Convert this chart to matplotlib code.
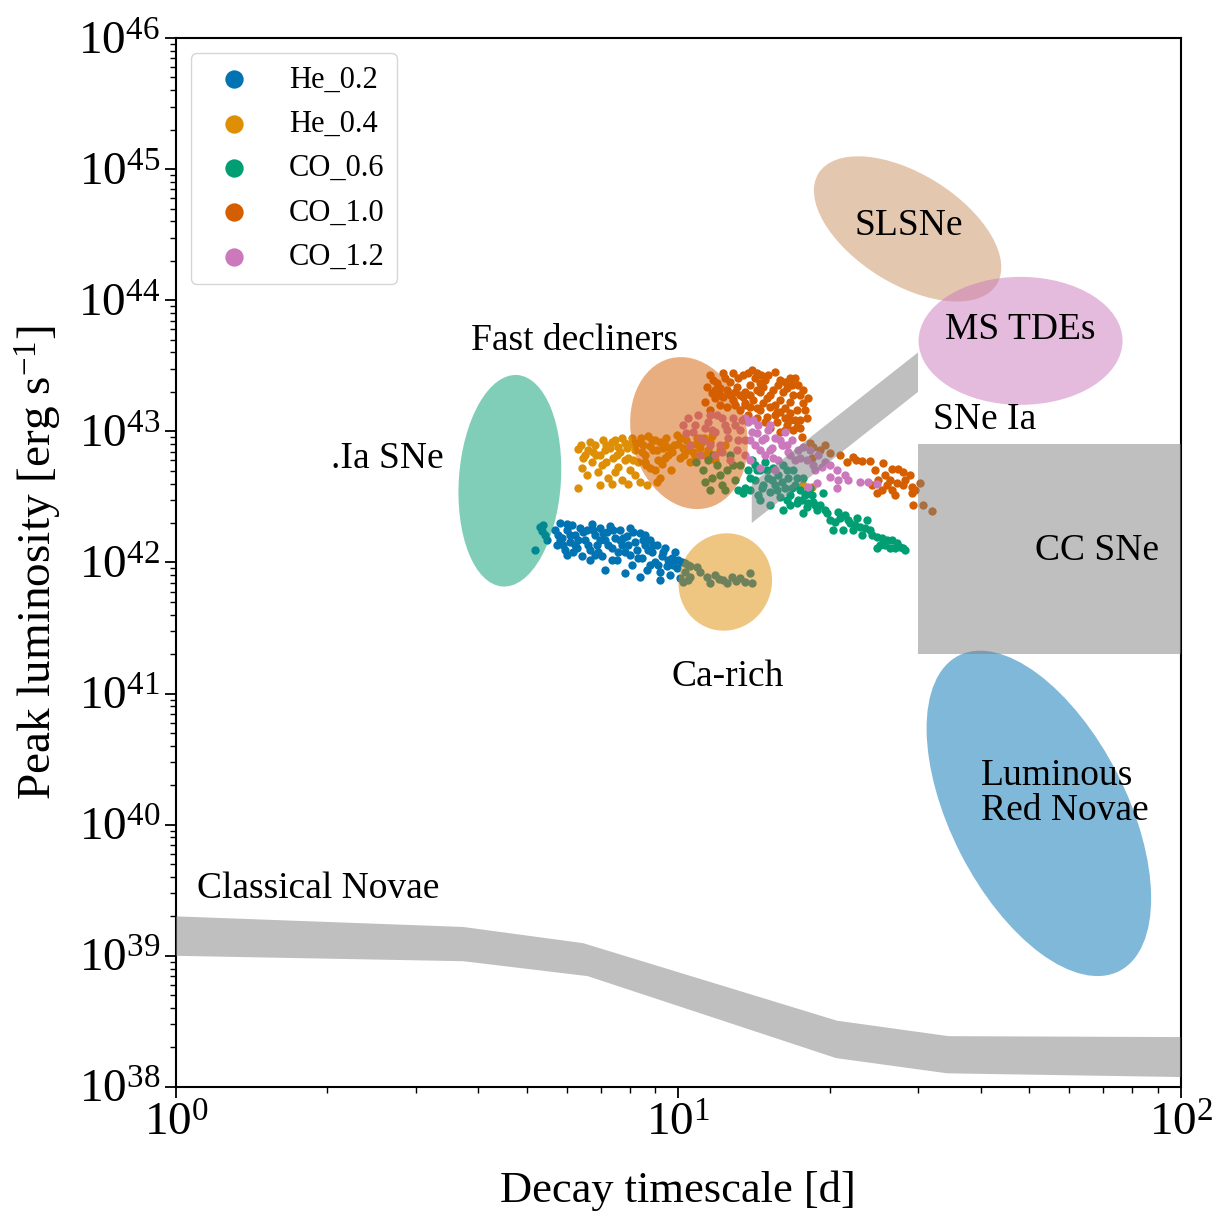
import matplotlib
matplotlib.use('Agg')
import matplotlib.pyplot as plt
import matplotlib.transforms as mtransforms
from matplotlib.patches import Ellipse

plt.rcParams['font.family'] = ['Liberation Serif', 'DejaVu Serif']
plt.rcParams['mathtext.fontset'] = 'custom'
plt.rcParams['mathtext.rm'] = 'Liberation Serif'
plt.rcParams['mathtext.it'] = 'Liberation Serif:italic'

# --- model light curves: decay time [d], peak luminosity [1e42 erg/s] ---
he02_t = [5.18, 5.30, 5.35, 5.42, 5.47, 5.37, 5.68, 5.73, 5.81, 5.86, 5.94, 5.99, 6.08, 6.13,
          6.22, 6.28, 6.37, 6.43, 6.52, 6.58, 6.67, 6.73, 6.82, 6.88, 6.98, 7.04, 7.14, 7.21,
          7.31, 7.38, 7.48, 7.55, 7.65, 7.72, 7.83, 7.90, 8.01, 8.08, 8.19, 8.27, 8.38, 8.46,
          8.58, 8.66, 8.78, 8.86, 8.98, 9.06, 9.19, 9.27, 9.40, 9.49, 9.62, 9.71, 9.84, 9.93,
          10.07, 10.16, 10.30, 10.44, 10.54, 5.99, 6.67, 7.14, 7.83, 8.38, 9.19, 10.44, 10.89,
          10.54, 10.21, 11.04, 11.39, 11.55, 11.82, 12.03, 12.26, 12.48, 12.77, 13.01, 13.26,
          13.56, 13.88, 14.01,
          5.76, 5.89, 6.01, 6.16, 6.31, 6.46, 6.61, 6.76, 6.92, 7.08, 7.24, 7.41, 7.58, 7.76,
          7.94, 8.12, 8.31, 8.50, 8.70, 8.90, 9.10, 9.32, 9.53, 9.75, 9.97, 10.30, 7.38, 6.82,
          6.22, 5.81, 8.01, 8.78, 6.08, 6.98, 7.65, 8.58]
he02_L = [1.24, 1.86, 1.74, 1.62, 1.48, 1.93, 1.77, 1.36, 2.01, 1.54, 1.24, 1.77, 1.43, 1.93,
          1.62, 1.28, 1.83, 1.12, 1.48, 1.77, 1.24, 1.97, 1.62, 1.36, 1.83, 1.12, 1.48, 1.71,
          1.90, 1.28, 1.54, 1.04, 1.77, 1.36, 1.20, 1.59, 1.83, 0.955, 1.43, 1.24, 1.67, 1.08,
          1.36, 0.875, 1.48, 1.20, 1.00, 1.36, 0.845, 1.12, 1.28, 0.94, 0.80, 1.08, 1.20, 0.90,
          0.76, 1.00, 0.845, 0.734, 0.94, 1.14, 1.04, 0.875, 0.83, 0.775, 0.734, 0.955, 0.92,
          0.775, 0.71, 0.845, 0.775, 0.697, 0.80, 0.75, 0.734, 0.697, 0.775, 0.72, 0.76,
          0.71, 0.83, 0.697,
          1.62, 1.36, 1.97, 1.20, 1.48, 1.71, 1.36, 1.77, 1.20, 1.69, 1.36, 1.77, 1.20, 1.54,
          1.36, 1.71, 1.08, 1.48, 1.24, 1.36, 0.955, 1.20, 1.04, 0.955, 1.04, 0.99, 1.04, 1.14,
          1.36, 1.48, 1.14, 0.955, 1.62, 1.48, 1.48, 1.62]

he04_t = [6.31, 6.43, 6.31, 6.52, 6.61, 6.73, 6.82, 6.92, 6.98, 7.08, 7.18, 7.24, 7.31, 7.41,
          7.48, 7.58, 7.65, 7.72, 7.83, 7.94, 8.01, 8.08, 8.19, 8.31, 8.38, 8.50, 8.58, 8.70,
          8.78, 8.90, 8.98, 9.10, 9.19, 9.32, 9.44, 9.53, 9.66, 9.79, 9.93, 10.07, 10.21, 10.35,
          10.54, 10.69, 10.89, 11.04, 11.29, 11.55, 11.82, 12.09, 17.69, 18.44, 8.66, 9.06, 7.38,
          6.46, 6.67, 6.85, 7.04, 7.14, 7.38, 7.55, 7.72, 7.90, 8.12, 8.27, 8.46, 8.62, 8.86,
          9.06, 9.27, 9.40, 9.71, 9.97, 10.25, 10.54, 10.79, 11.14, 11.45, 11.66, 12.37, 6.58,
          7.48, 8.19, 8.98, 6.98, 7.94,
          6.40, 6.76, 7.18, 7.58, 8.01, 8.42, 8.78, 9.19, 9.62, 10.07, 10.44, 10.84, 11.24,
          7.83, 8.58, 9.40]
he04_L = [7.33, 5.26, 3.70, 6.60, 7.20, 5.83, 7.86, 4.90, 6.60, 8.58, 5.83, 4.40, 7.46, 6.26,
          8.58, 5.35, 6.96, 4.25, 8.15, 6.26, 5.07, 8.90, 7.20, 5.83, 4.10, 7.86, 6.60, 9.20,
          5.26, 7.20, 8.58, 6.04, 4.40, 7.46, 8.90, 6.60, 5.07, 7.86, 9.37, 6.26, 7.46, 8.58,
          5.83, 6.96, 8.90, 7.46, 6.60, 8.30, 6.04, 7.20, 3.89, 3.76, 3.89, 4.10, 3.96,
          6.26, 8.30, 6.60, 5.53, 7.20, 8.30, 6.60, 8.90, 7.46, 6.04, 8.15, 6.96, 5.53, 8.58,
          7.20, 5.63, 7.86, 6.96, 8.00, 6.60, 7.86, 6.50, 8.30, 7.20, 9.20, 7.86, 4.64,
          4.90, 4.64, 5.07, 3.89, 3.96,
          7.86, 6.96, 7.86, 7.60, 8.00, 8.90, 7.72, 8.30, 7.46, 8.90, 7.20, 8.00, 8.90,
          6.04, 5.83, 6.26]

co06_t = [11.19, 11.45, 11.66, 11.93, 12.20, 12.48, 12.66, 12.95, 13.26, 13.56, 10.84, 11.55,
          13.75, 13.88, 14.01, 14.20, 14.40, 14.53, 14.73, 14.87, 15.07, 15.21, 15.42, 15.56,
          15.78, 15.92, 16.14, 16.29, 16.52, 16.67, 16.90, 17.06, 17.29, 17.45, 17.69, 17.85,
          18.10, 18.27, 14.20, 13.44, 16.44, 17.21, 18.02, 18.86, 19.75, 20.02, 20.96, 21.94,
          22.97, 24.05, 24.83, 26.00, 27.21, 27.97, 26.36, 24.83, 20.30, 21.25, 23.71, 22.25,
          23.18, 16.14, 17.69, 18.52, 19.39, 18.02, 19.12, 21.45, 25.18, 26.96,
          11.71, 12.09, 12.83, 13.13, 12.37, 11.29, 13.88, 14.33, 14.67, 15.00, 15.35, 15.71,
          16.07, 16.44, 16.82, 17.21, 17.61, 18.44, 18.69, 19.57, 20.48, 20.77, 21.74, 22.45,
          22.66, 23.50, 24.28, 25.41, 25.76, 26.60, 27.59, 28.23, 15.21, 14.53, 16.67]
co06_L = [5.07, 6.04, 4.40, 5.53, 3.89, 5.07, 6.60, 4.25, 5.53, 3.70, 5.83, 3.57,
          5.07, 3.57, 6.04, 4.25, 3.27, 5.07, 3.89, 5.83, 4.40, 3.45, 5.26, 3.89,
          4.64, 3.16, 5.53, 3.70, 4.40, 3.27, 5.07, 3.89, 2.99, 3.57, 4.40, 3.27,
          2.84, 3.70, 5.53, 3.39, 2.99, 2.84, 2.64, 2.51, 2.38, 2.11, 2.18, 2.00,
          1.86, 1.77, 1.56, 1.48, 1.40, 1.28, 1.28, 1.28, 1.77, 1.77, 2.11, 1.77,
          1.62, 2.51, 2.38, 2.89, 3.39, 3.39, 2.74, 2.30, 1.36, 1.28,
          6.60, 4.64, 5.53, 3.57, 3.57, 4.10, 4.40, 5.07, 3.70, 5.07, 4.25, 3.57,
          4.10, 5.07, 3.70, 4.40, 2.99, 3.27, 2.74, 2.51, 2.04, 2.43, 2.11, 1.93,
          2.18, 1.83, 1.62, 1.54, 1.36, 1.48, 1.32, 1.24, 2.74, 2.99, 2.74]

co10_t = [11.55, 12.26, 12.83, 13.44, 14.33, 15.07, 15.92, 16.67, 17.06, 11.39, 11.93, 12.48,
          13.07, 13.88, 14.73, 15.42, 16.44, 16.90, 11.29, 11.82, 12.26, 12.83, 13.44, 14.07,
          15.00, 15.92, 16.67, 17.69, 12.48, 13.26, 13.88, 14.53, 15.21, 15.92, 16.67, 17.45,
          18.02, 14.33, 15.00, 15.71, 16.44, 15.21, 15.92, 16.90, 17.21, 17.61, 18.27, 12.66,
          13.56, 14.53, 14.20, 13.75, 17.21, 16.29, 18.52, 19.12, 20.02, 18.44, 19.57, 21.64,
          22.25, 23.18, 24.05, 25.53, 26.60, 27.34, 27.97, 28.89, 26.36, 24.95, 26.00, 27.21,
          27.97, 29.15, 24.83, 25.41, 26.96, 29.15, 29.28, 30.66, 31.95, 30.24,
          11.71, 12.09, 13.13, 13.75, 14.60, 15.56, 16.29, 17.29, 11.66, 13.26, 14.33, 15.21,
          16.14, 17.45, 11.55, 12.09, 12.95, 13.56, 14.73, 15.56, 16.29, 17.85, 17.06, 15.56,
          14.87, 16.29, 17.45, 12.66, 14.53, 13.88, 22.56, 24.60, 25.76, 26.60, 28.23, 29.55,
          24.28, 20.96,
          11.82, 12.37, 12.95, 14.01, 14.87, 15.78, 16.82, 17.69, 13.56, 14.33, 16.67, 15.71,
          12.09, 18.10]
co10_L = [26.9, 27.9, 27.9, 26.9, 27.9, 26.9, 24.6, 25.5, 25.5, 21.8, 23.4, 20.7,
          21.8, 22.6, 21.8, 20.7, 21.4, 18.9, 16.7, 17.9, 18.2, 17.3, 18.2, 17.3,
          17.9, 17.3, 16.7, 16.5, 15.4, 14.5, 15.4, 14.5, 15.4, 14.0, 13.8, 12.2,
          12.6, 12.6, 12.9, 11.8, 11.2, 10.6, 9.89, 10.2, 10.8, 9.05, 8.15, 23.8,
          20.0, 20.0, 25.5, 13.3, 14.5, 12.6, 7.60, 7.20, 6.84, 6.26, 7.86, 5.83,
          6.37, 5.94, 5.94, 5.73, 5.16, 5.16, 4.90, 4.64, 4.25, 4.25, 3.89, 4.02,
          3.89, 3.76, 3.39, 3.57, 3.27, 3.39, 2.74, 2.74, 2.46, 4.02,
          24.6, 21.4, 25.5, 27.9, 26.9, 28.4, 23.8, 22.6, 19.5, 18.9, 20.7, 18.9,
          20.0, 18.9, 14.5, 15.9, 15.9, 16.5, 16.5, 15.9, 15.0, 14.5, 12.2, 13.3,
          11.8, 10.2, 10.6, 18.9, 23.4, 18.9, 6.04, 5.07, 4.64, 3.57, 4.25, 3.57,
          3.89, 6.60,
          20.7, 25.5, 20.0, 29.4, 24.6, 22.6, 22.6, 20.7, 15.9, 15.0, 12.2, 14.0,
          18.9, 17.9]

co12_t = [10.21, 10.44, 10.69, 10.94, 11.19, 11.45, 11.66, 11.93, 12.09, 12.37, 12.54, 12.83,
          13.07, 13.26, 13.56, 10.54, 11.04, 11.82, 12.66, 13.38, 10.35, 11.29, 13.75, 14.01,
          14.20, 14.40, 14.67, 14.87, 15.07, 15.35, 15.56, 15.78, 16.07, 16.29, 16.52, 16.82,
          17.06, 17.29, 17.69, 18.02, 18.52, 18.94, 19.30, 20.02, 20.67, 20.77, 20.67, 21.74,
          22.97, 24.83, 18.10, 18.86, 20.02, 14.33, 15.21, 16.14, 13.88, 14.53, 15.56,
          10.79, 11.04, 11.55, 11.82, 12.20, 12.48, 12.95, 13.13, 13.56, 11.55, 12.20, 13.56,
          13.88, 14.07, 14.53, 14.87, 15.21, 15.42, 15.92, 16.44, 16.67, 17.45, 18.27, 18.69,
          19.57, 21.45, 23.82]
co12_L = [11.2, 12.6, 9.89, 13.3, 8.58, 11.8, 10.2, 13.3, 7.86, 11.2, 8.90, 12.6,
          7.20, 10.2, 8.58, 7.86, 6.60, 6.60, 6.04, 12.2, 9.72, 10.6, 11.8, 9.89,
          7.86, 11.2, 8.58, 6.60, 10.2, 7.46, 8.90, 6.04, 7.86, 9.89, 6.96, 8.58,
          6.04, 7.20, 7.60, 6.04, 5.53, 6.60, 5.35, 5.53, 5.07, 4.25, 3.70, 4.25,
          4.10, 3.96, 3.76, 4.02, 4.48, 9.72, 7.20, 7.86, 6.04, 5.26, 5.07,
          11.2, 8.90, 13.3, 9.89, 12.6, 10.2, 11.2, 8.58, 12.6, 7.86, 6.96, 6.60,
          8.58, 12.2, 7.20, 8.90, 11.2, 6.26, 8.58, 7.86, 6.60, 6.26, 7.20, 5.07,
          5.83, 4.64, 4.10]

models = ['He_0.2', 'He_0.4', 'CO_0.6', 'CO_1.0', 'CO_1.2']
model_t = [he02_t, he04_t, co06_t, co10_t, co12_t]
model_L = [he02_L, he04_L, co06_L, co10_L, co12_L]
model_colors = ['#0173B2', '#DE8F05', '#029E73', '#D55E00', '#CC78BC']

# --- transient classes drawn as ellipses (centre in data, size in inches, angle in deg) ---
ell_names = ['.Ia SNe', 'Fast decliners', 'Ca-rich', 'SLSNe', 'MS TDEs', 'Luminous Red Novae']
ell_t = [4.62, 10.5, 12.4, 28.6, 48.0, 52.2]
ell_L = [4.2e42, 9.7e42, 7.1e41, 3.5e44, 4.9e43, 1.22e40]
ell_w = [2.12, 1.54, 0.98, 2.10, 2.04, 3.54]
ell_h = [1.02, 1.15, 0.93, 1.10, 1.28, 1.76]
ell_ang = [86, 104, 70, -32, 0, -63]
ell_colors = ['#029E73', '#D55E00', '#DE8F05', '#CA9161', '#CC78BC', '#0173B2']

# grey regions
snia_t = [14, 14, 30, 30]
snia_L = [2e42, 4e42, 4e43, 2e43]
ccsn_t = [30, 100, 100, 30]
ccsn_L = [2e41, 2e41, 8e42, 8e42]
nova_top_t = [1.0, 3.73, 6.46, 20.7, 34.5, 100]
nova_top_L = [2.0e39, 1.66e39, 1.25e39, 3.2e38, 2.44e38, 2.4e38]
nova_bot_t = [1.0, 3.73, 6.6, 20.6, 34.3, 100]
nova_bot_L = [1.0e39, 9.1e38, 7.0e38, 1.66e38, 1.27e38, 1.19e38]

# labels: text, x, y, alignment
labels = [('Fast decliners', 6.22, 4.9e43, 'center'),
          ('.Ia SNe', 2.63, 6.15e42, 'center'),
          ('Ca-rich', 12.55, 1.34e41, 'center'),
          ('SLSNe', 28.7, 3.68e44, 'center'),
          ('MS TDEs', 48.0, 5.93e43, 'center'),
          ('SNe Ia', 40.7, 1.22e43, 'center'),
          ('CC SNe', 68.1, 1.22e42, 'center'),
          ('Luminous\nRed Novae', 40.0, 1.74e40, 'left'),
          ('Classical Novae', 1.10, 3.23e39, 'left')]

fig = plt.figure(figsize=(12.22, 12.18), dpi=100)
ax = fig.add_axes([0.144, 0.1076, 0.8222, 0.8612])
ax.set_xscale('log')
ax.set_yscale('log')
ax.set_xlim(1, 100)
ax.set_ylim(1e38, 1e46)

for name, t, L, c in zip(models, model_t, model_L, model_colors):
    ax.scatter(t, [v * 1e42 for v in L], s=36, color=c, linewidths=0, label=name, zorder=2)

for t, L, w, h, a, c in zip(ell_t, ell_L, ell_w, ell_h, ell_ang, ell_colors):
    tr = fig.dpi_scale_trans + mtransforms.ScaledTranslation(t, L, ax.transData)
    ax.add_patch(Ellipse((0, 0), w, h, angle=a, transform=tr, facecolor=c,
                         edgecolor='none', alpha=0.5, zorder=3))

ax.fill(snia_t, snia_L, color='grey', alpha=0.5, lw=0, zorder=3)
ax.fill(ccsn_t, ccsn_L, color='grey', alpha=0.5, lw=0, zorder=3)
ax.fill(nova_top_t + nova_bot_t[::-1], nova_top_L + nova_bot_L[::-1],
        color='grey', alpha=0.5, lw=0, zorder=3)

for txt, x, y, ha in labels:
    ax.text(x, y, txt, fontsize=27, ha=ha, va='center', linespacing=1.0, zorder=4)

ax.set_xlabel('Decay timescale [d]', fontsize=32, labelpad=18)
ax.set_ylabel(r'Peak luminosity [erg s$^{-1}$]', fontsize=34, labelpad=10)
ax.tick_params(which='major', labelsize=34, length=8, width=1.3)
ax.tick_params(which='minor', length=4, width=1.0)
for sp in ax.spines.values():
    sp.set_linewidth(1.5)

ax.legend(loc='upper left', fontsize=22, markerscale=2.2)

fig.savefig('out.png', dpi=100)
